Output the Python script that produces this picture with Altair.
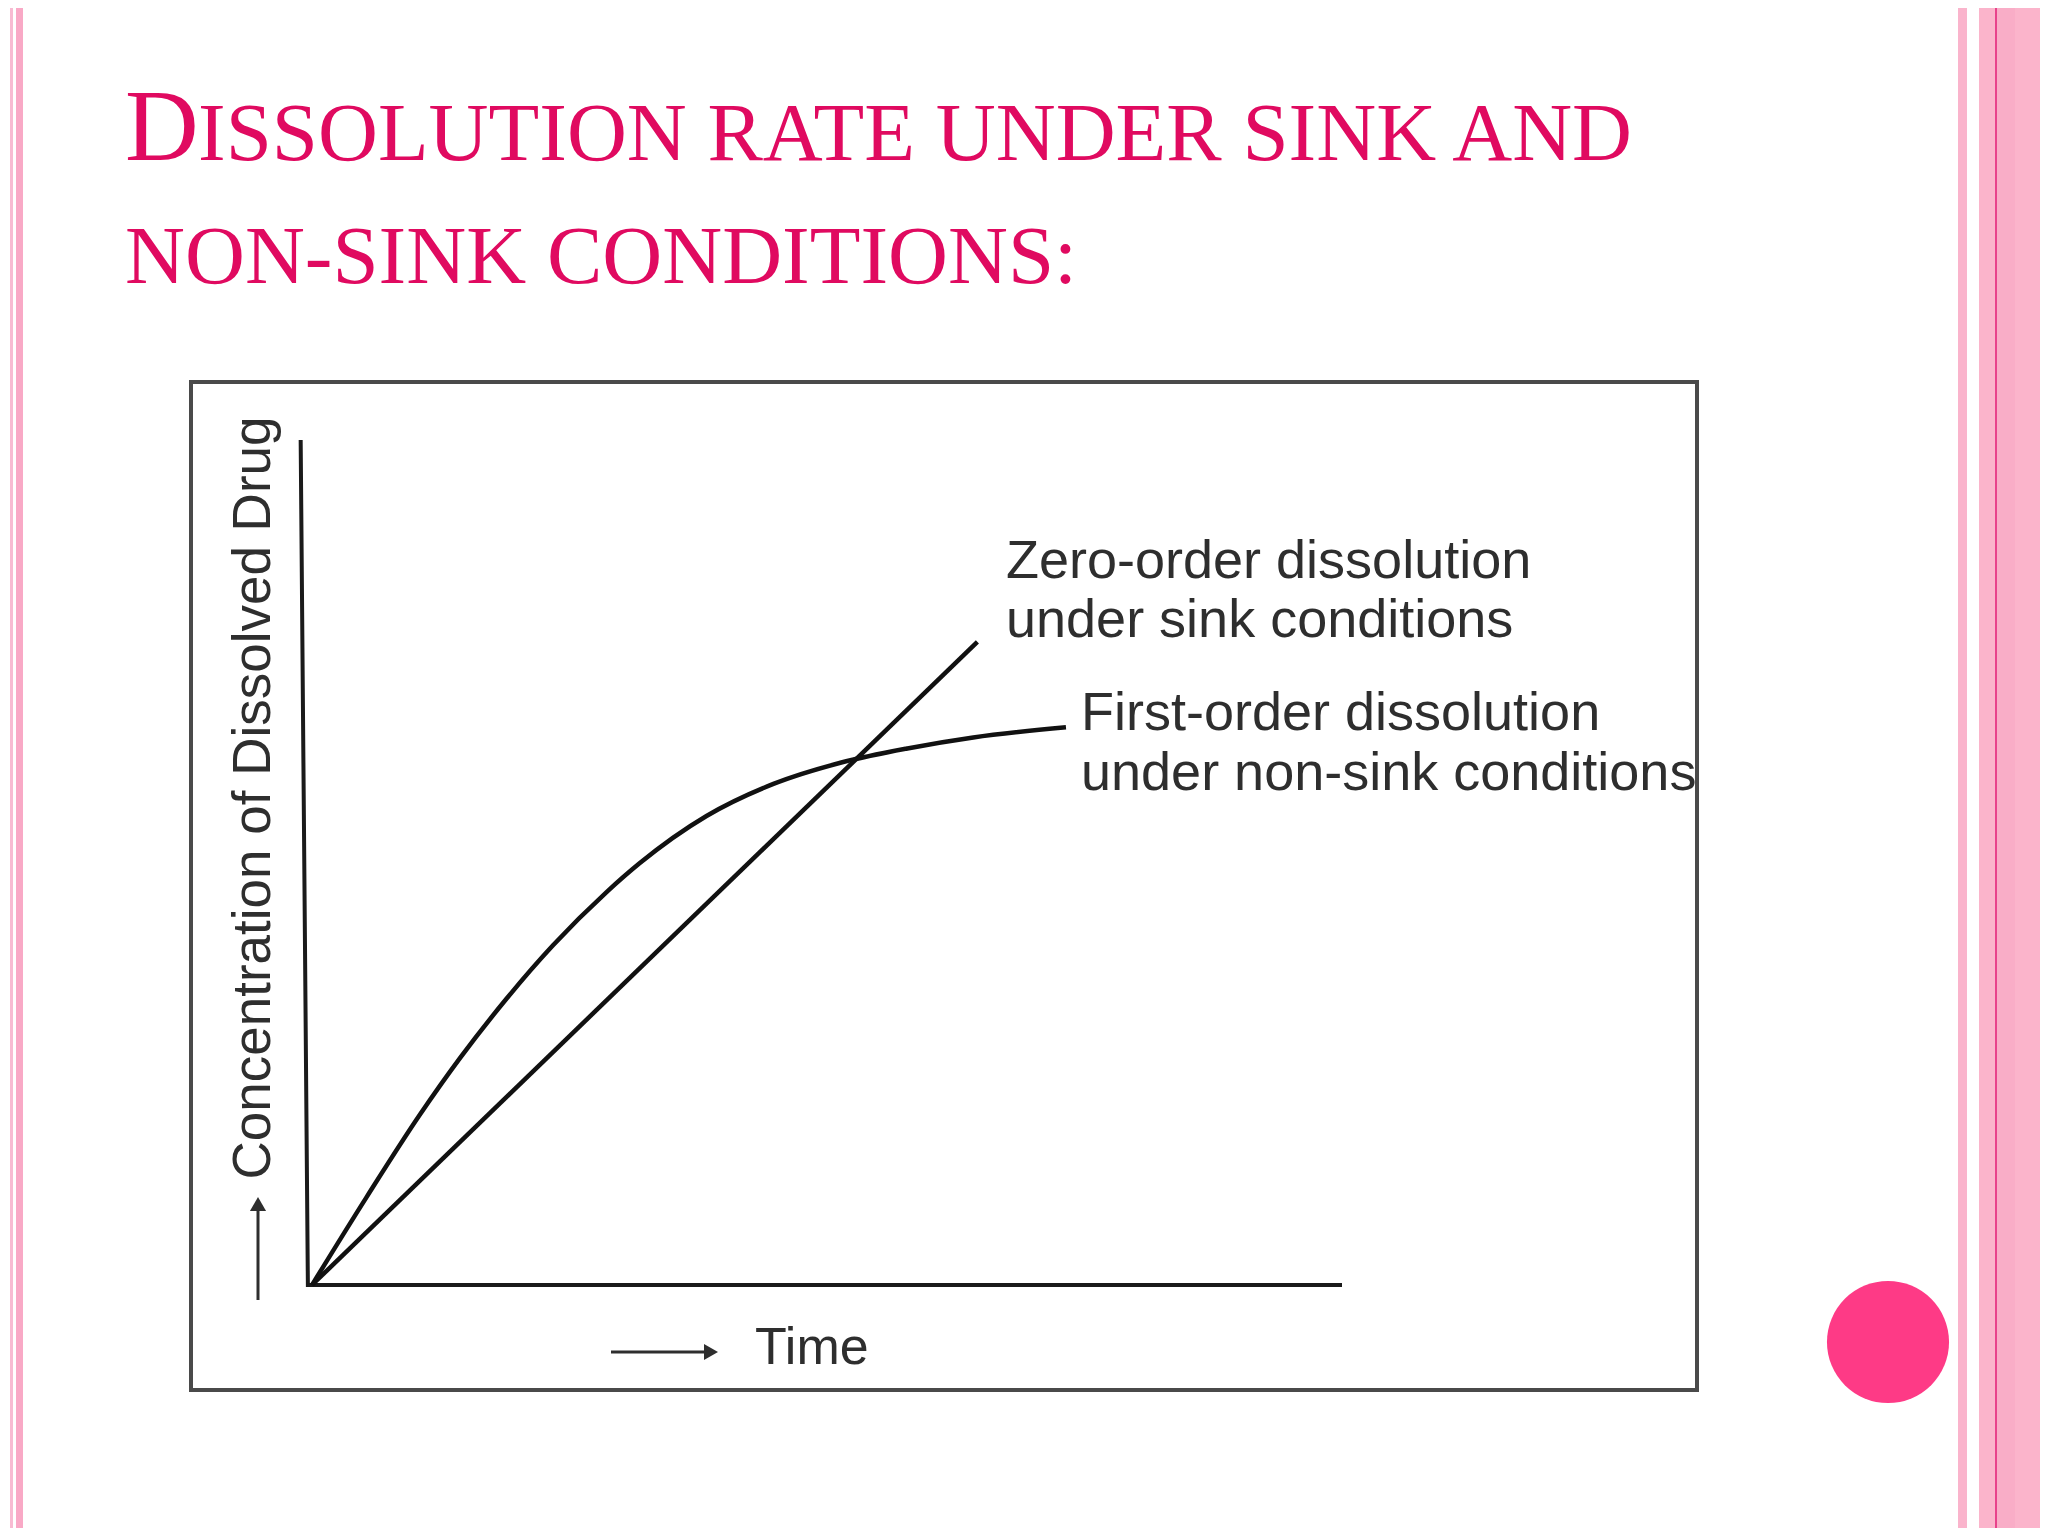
import altair as alt
import pandas as pd

# ---------------- data ----------------
# time axis (arbitrary units 0..100) and concentration (arbitrary units 0..100)
zero_t = [0.0, 64.6]
zero_c = [0.0, 76.1]

first_t = [0.0, 5.3, 10.5, 14.4, 18.9, 23.4, 28.6, 31.8, 38.3, 44.8, 51.3, 57.8, 64.2, 73.2]
first_c = [0.0, 10.4, 20.2, 26.9, 33.9, 40.2, 46.5, 49.9, 55.5, 59.3, 61.8, 63.5, 64.8, 66.0]

axis_t = [-1.1, -0.4, 100.0]
axis_c = [100.0, 0.0, 0.0]

title_big = "D"
title_line1 = "ISSOLUTION RATE UNDER SINK AND"
title_line2 = "NON-SINK CONDITIONS:"
y_label = "Concentration of Dissolved Drug"
x_label = "Time"
zero_label = ["Zero-order dissolution", "under sink conditions"]
first_label = ["First-order dissolution", "under non-sink conditions"]

# ---------------- helpers ----------------
W, H = 2032, 1520
one = pd.DataFrame({"k": [0]})

XS = alt.Scale(domain=[0, 100], range=[304, 1334])
YS = alt.Scale(domain=[0, 100], range=[1277, 432])


def rect(x1, x2, y1, y2, color, **kw):
    return alt.Chart(one).mark_rect(color=color, **kw).encode(
        x=alt.value(x1), x2=alt.value(x2), y=alt.value(y1), y2=alt.value(y2)
    )


def text(s, x, y, **kw):
    return alt.Chart(one).mark_text(text=s, **kw).encode(x=alt.value(x), y=alt.value(y))


layers = []

# slide side stripes
layers.append(rect(2, 5, 0, H, "#F8BBD2"))
layers.append(rect(8, 15, 0, H, "#F9A9C6"))
layers.append(rect(1950, 1959, 0, H, "#FAB4CC"))
layers.append(rect(1971, W, 0, H, "#FBB4CB"))
layers.append(rect(1987, 2007, 0, H, "#F9ADC7"))
layers.append(rect(1987, 1989, 0, H, "#E8428B"))

# title (small caps imitation)
TC = "#E00A60"
layers.append(text(title_big, 117, 152, font="Liberation Serif", fontSize=102,
                   align="left", baseline="alphabetic", color=TC))
layers.append(text(title_line1, 190, 152, font="Liberation Serif", fontSize=83,
                   align="left", baseline="alphabetic", color=TC))
layers.append(text(title_line2, 117, 275, font="Liberation Serif", fontSize=83,
                   align="left", baseline="alphabetic", color=TC))

# picture frame
layers.append(rect(183, 1689, 374, 1382, "#FFFFFF", fillOpacity=0,
                   stroke="#4A4A4A", strokeWidth=4))

# axes lines (through data scales)
axis_df = pd.DataFrame({"t": axis_t, "c": axis_c, "o": [0, 1, 2]})
layers.append(
    alt.Chart(axis_df).mark_line(color="#1A1A1A", strokeWidth=4).encode(
        x=alt.X("t:Q", scale=XS, axis=None),
        y=alt.Y("c:Q", scale=YS, axis=None),
        order="o:O",
    )
)

# curves
curve_df = pd.concat([
    pd.DataFrame({"t": zero_t, "c": zero_c, "series": "zero"}),
    pd.DataFrame({"t": first_t, "c": first_c, "series": "first"}),
])
layers.append(
    alt.Chart(curve_df).mark_line(color="#111111", strokeWidth=4.5, interpolate="monotone").encode(
        x=alt.X("t:Q", scale=XS, axis=None),
        y=alt.Y("c:Q", scale=YS, axis=None),
        detail="series:N",
    )
)

# axis labels with arrows
LC = "#2E2E2E"
layers.append(text(y_label, 262, 790, font="Liberation Sans", fontSize=53, angle=270,
                   align="center", baseline="alphabetic", color=LC))
layers.append(alt.Chart(one).mark_rule(color=LC, strokeWidth=3).encode(
    x=alt.value(250), y=alt.value(1200), y2=alt.value(1292)))
layers.append(alt.Chart(one).mark_point(shape="triangle-up", filled=True, size=260,
                                        color=LC, opacity=1).encode(
    x=alt.value(250), y=alt.value(1196)))

layers.append(text(x_label, 747, 1356, font="Liberation Sans", fontSize=52,
                   align="left", baseline="alphabetic", color=LC))
layers.append(alt.Chart(one).mark_rule(color=LC, strokeWidth=3).encode(
    x=alt.value(603), x2=alt.value(700), y=alt.value(1344)))
layers.append(alt.Chart(one).mark_point(shape="triangle-right", filled=True, size=260,
                                        color=LC, opacity=1).encode(
    x=alt.value(703), y=alt.value(1344)))

# curve annotations
for i, s in enumerate(zero_label):
    layers.append(text(s, 998, 570 + 59 * i, font="Liberation Sans", fontSize=54,
                       align="left", baseline="alphabetic", color=LC))
for i, s in enumerate(first_label):
    layers.append(text(s, 1073, 722 + 60 * i, font="Liberation Sans", fontSize=54,
                       align="left", baseline="alphabetic", color=LC))

# decorative pink dot (vega symbol size = diameter squared)
layers.append(alt.Chart(one).mark_circle(size=14900, color="#FE3A86", opacity=1).encode(
    x=alt.value(1880), y=alt.value(1334)))

chart = alt.layer(*layers).properties(
    width=W, height=H, padding=0,
    autosize=alt.AutoSizeParams(type="none"),
    background="#FFFFFF",
).configure_view(stroke=None)

chart.save("out.html", embed_options={"renderer": "svg", "actions": False})
